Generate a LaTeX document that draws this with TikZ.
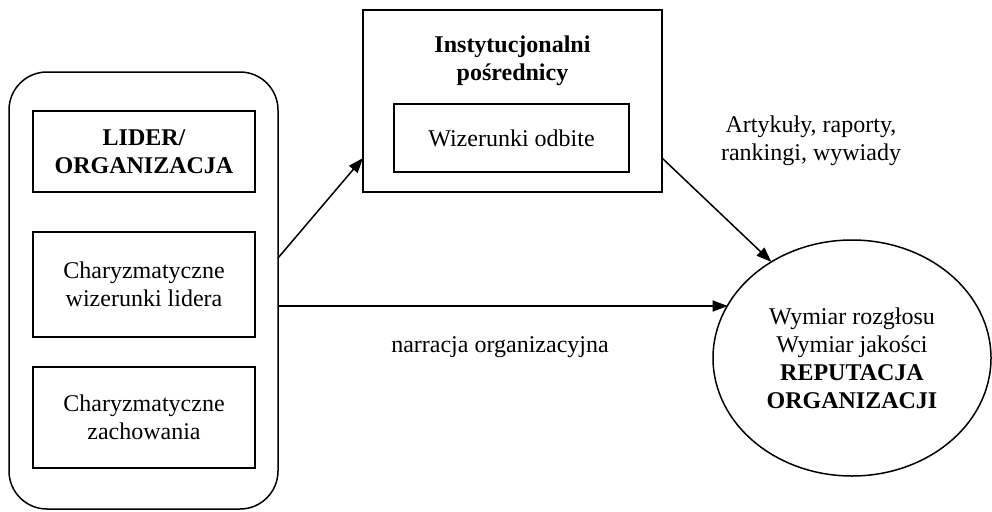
\documentclass[tikz,border=0pt]{standalone}
\usepackage{fontspec}
\setmainfont{Liberation Serif}
\usetikzlibrary{arrows.meta,shapes.geometric}
\begin{document}
\begin{tikzpicture}[x=1pt,y=-1pt,
  every node/.style={font=\fontsize{24}{28}\selectfont, outer sep=0pt, inner sep=0pt, align=center},
  box/.style={draw, line width=1.5pt, rectangle},
  arr/.style={line width=1.5pt, -{Triangle[length=15pt,width=11pt]}},
  lbl/.style={}
]
\useasboundingbox (0,0) rectangle (992,511);
\node[box, rounded corners=38pt, minimum width=269pt, minimum height=437pt] (outer) at (143.5,290.5) {};
\node[box, minimum width=222pt, minimum height=81pt] (lider) at (144,151.5) {\bfseries LIDER/\\\bfseries ORGANIZACJA};
\node[box, minimum width=222pt, minimum height=105pt] (wiz) at (144,284.5) {Charyzmatyczne\\wizerunki lidera};
\node[box, minimum width=222pt, minimum height=101pt] (zach) at (144,417.5) {Charyzmatyczne\\zachowania};
\node[box, minimum width=299pt, minimum height=182pt] (inst) at (512.5,101) {};
\node[lbl] (insttitle) at (512.5,61) {\bfseries Instytucjonalni\\\bfseries pośrednicy};
\node[box, minimum width=235pt, minimum height=68pt] (odb) at (511.5,138) {Wizerunki odbite};
\node[draw, line width=1.5pt, ellipse, minimum width=278pt, minimum height=236pt] (rep) at (852,358) {Wymiar rozgłosu\\Wymiar jakości\\\bfseries REPUTACJA\\\bfseries ORGANIZACJI};
\node[lbl] (artlbl) at (811,141) {Artykuły, raporty,\\rankingi, wywiady};
\node[lbl] (narlbl) at (500,347) {narracja organizacyjna};
\coordinate (hstart) at ([yshift=-15.5pt]outer.east);
\draw[arr] ([yshift=32.5pt]outer.east) -- ([yshift=-57pt]inst.west);
\draw[arr] (hstart) -- (hstart -| rep.157.4);
\draw[arr] ([yshift=-57pt]inst.east) -- (rep.130);
\end{tikzpicture}
\end{document}
